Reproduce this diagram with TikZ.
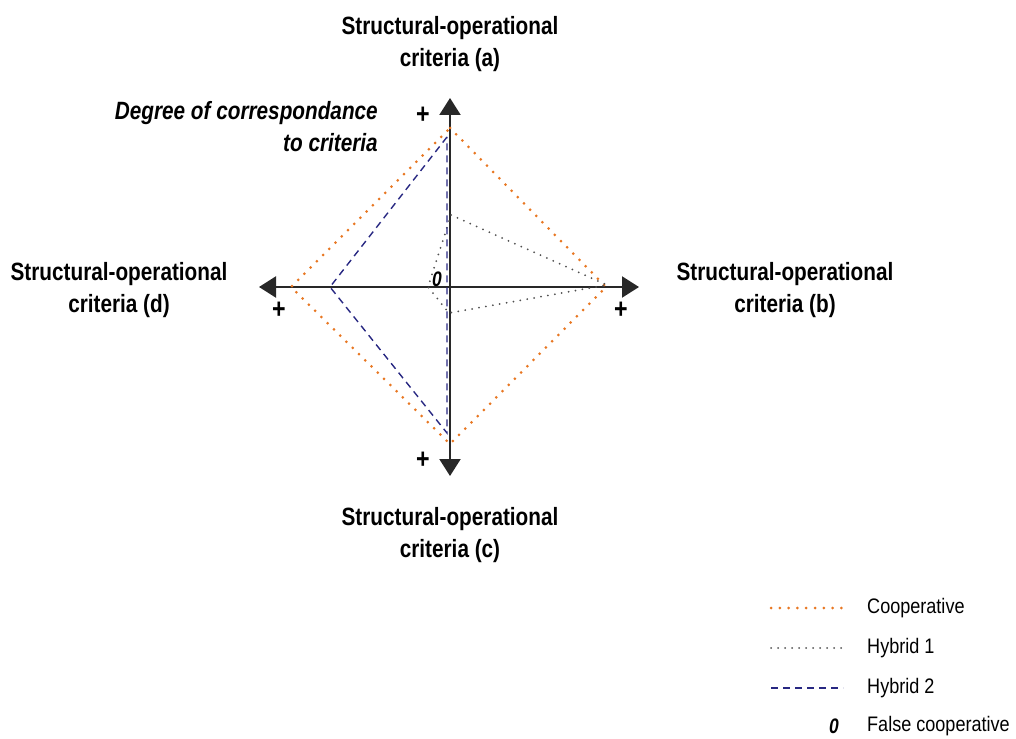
\documentclass[tikz,border=0pt]{standalone}
\usepackage{fontspec}
\setmainfont{Liberation Sans}[FakeStretch=0.83]
\newfontfamily\legfont{Liberation Sans}[FakeStretch=0.86]
\usetikzlibrary{arrows.meta}
\definecolor{coop}{RGB}{232,119,34}
\definecolor{hybone}{RGB}{80,80,80}
\definecolor{hybtwo}{RGB}{40,40,130}
\definecolor{axisc}{RGB}{40,40,40}
\tikzset{
  axisline/.style={draw=axisc, line width=2.2pt, -{Triangle[length=17pt,width=21pt]}},
  lab/.style={font=\fontsize{25}{32}\selectfont\bfseries, align=center, inner sep=0pt},
  plussign/.style={font=\fontsize{28}{28}\selectfont\bfseries, inner sep=0pt},
  coopline/.style={draw=coop, line width=3pt, line cap=round, dash pattern=on 0pt off 8.8pt},
  hybonestyle/.style={draw=hybone, line width=2pt, line cap=round, dash pattern=on 0pt off 7pt},
  hybtwostyle/.style={draw=hybtwo, line width=1.4pt, dash pattern=on 7pt off 5pt},
  legtext/.style={font=\legfont\fontsize{21}{21}\selectfont, anchor=west, inner sep=0pt},
  zerolab/.style={font=\fontsize{21}{21}\selectfont\bfseries\itshape, inner sep=0pt}
}
\begin{document}
\begin{tikzpicture}[x=1pt,y=-1pt]
\useasboundingbox (0,0) rectangle (1016,738);
% axes
\coordinate (O) at (450,287);
\coordinate (T) at (450,98);
\coordinate (B) at (450,476);
\coordinate (L) at (259,287);
\coordinate (R) at (639,287);
\draw[axisline] (O) -- (T);
\draw[axisline] (O) -- (B);
\draw[axisline] (O) -- (L);
\draw[axisline] (O) -- (R);
% cooperative
\coordinate (ct) at (450,128);
\coordinate (cr) at (606,287);
\coordinate (cb) at (450,444);
\coordinate (cl) at (291,287);
\draw[coopline] (ct) -- (cr) -- (cb) -- (cl) -- cycle;
% hybrid 1
\coordinate (h1t) at (451,215);
\coordinate (h1r) at (607,285);
\coordinate (h1b) at (449,313);
\coordinate (h1l) at (428,287);
\draw[hybonestyle] (h1t) -- (h1r) -- (h1b) -- (h1l) -- cycle;
% hybrid 2
\coordinate (h2t) at (447,137);
\coordinate (h2l) at (330,287);
\coordinate (h2b) at (447,433);
\draw[hybtwostyle] (h2t) -- (h2l) -- (h2b) -- cycle;
% labels
\node[lab] (la) at (450,44) {Structural-operational\\criteria (a)};
\node[lab] (lb) at (785,290) {Structural-operational\\criteria (b)};
\node[lab] (lc) at (450,535) {Structural-operational\\criteria (c)};
\node[lab] (ld) at (119,290) {Structural-operational\\criteria (d)};
\node[lab, font=\fontsize{25}{32}\selectfont\bfseries\itshape, align=right, anchor=east] (deg) at (378,127) {Degree of correspondance\\to criteria};
\node[plussign] (pt) at (423,115) {+};
\node[plussign] (pl) at (279,310) {+};
\node[plussign] (pr) at (621,310) {+};
\node[plussign] (pb) at (423,460) {+};
\node[zerolab] (z) at (437,279) {0};
% legend
\coordinate (l1a) at (771,608); \coordinate (l1b) at (843,608);
\coordinate (l2a) at (771,648); \coordinate (l2b) at (843,648);
\coordinate (l3a) at (771,688); \coordinate (l3b) at (843,688);
\draw[coopline] (l1a) -- (l1b);
\draw[hybonestyle] (l2a) -- (l2b);
\draw[hybtwostyle] (l3a) -- (l3b);
\node[legtext] (t1) at (867,608) {Cooperative};
\node[legtext] (t2) at (867,648) {Hybrid 1};
\node[legtext] (t3) at (867,688) {Hybrid 2};
\node[legtext] (t4) at (867,726) {False cooperative};
\node[zerolab] (z2) at (834,726) {0};
\end{tikzpicture}
\end{document}
